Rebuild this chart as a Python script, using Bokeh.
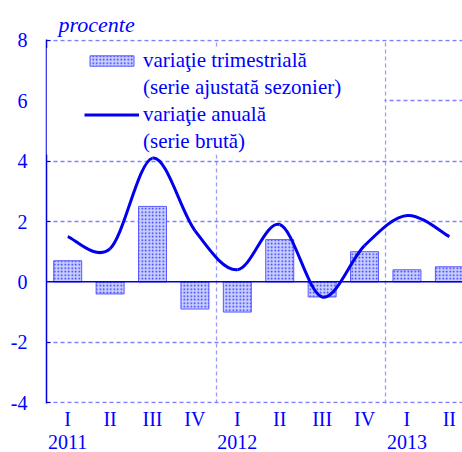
import numpy as np
from bokeh.plotting import figure
from bokeh.models import (FixedTicker, Span, Legend, LegendItem, BoxAnnotation,
                          LinearAxis, Range1d)
from bokeh.embed import file_html
from bokeh.resources import INLINE

# ---- data ----
quarters = ["I", "II", "III", "IV", "I", "II", "III", "IV", "I", "II"]
quarter_years = ["2011", "2011", "2011", "2011", "2012", "2012", "2012", "2012", "2013", "2013"]
quarterly = [0.7, -0.4, 2.5, -0.9, -1.0, 1.4, -0.5, 1.0, 0.4, 0.5]   # variatie trimestriala
annual = [1.5, 1.1, 4.1, 1.7, 0.4, 1.9, -0.5, 1.2, 2.2, 1.5]        # variatie anuala
y_ticks = [-4, -2, 0, 2, 4, 6, 8]

BLUE = "#0000ff"
GRID = "#8080ff"
FONT = "Liberation Serif"

n = len(quarters)
xs = list(range(n))

p = figure(width=462, height=452, output_backend="svg", toolbar_location=None,
           x_range=Range1d(-0.5, 9.31), y_range=Range1d(-4.03, 8.03),
           min_border_left=46, min_border_right=0, min_border_top=39, min_border_bottom=49)
p.outline_line_color = None
p.background_fill_color = "white"

# title
p.title.text = "procente"
p.title.text_font = FONT
p.title.text_font_style = "italic"
p.title.text_font_size = "22px"
p.title.text_color = BLUE
p.title.align = "left"
p.title.offset = 12
p.title.standoff = 6

# grids
p.ygrid.ticker = FixedTicker(ticks=[t for t in y_ticks if t != 0])
p.ygrid.grid_line_color = GRID
p.ygrid.grid_line_dash = "4 3"
p.ygrid.grid_line_width = 1.3
year_bounds = [i - 0.5 for i in range(1, n) if quarters[i] == "I"]
p.xgrid.ticker = FixedTicker(ticks=year_bounds)
p.xgrid.grid_line_color = "#9a9aff"
p.xgrid.grid_line_dash = "4 3"
p.xgrid.grid_line_width = 1.3

# y axis
p.yaxis.ticker = FixedTicker(ticks=y_ticks)
p.yaxis.major_label_overrides = {t: str(t) for t in y_ticks}
p.yaxis.axis_line_color = "#0000dd"
p.yaxis.axis_line_width = 1.5
p.yaxis.major_tick_in = 4
p.yaxis.major_tick_out = 0
p.yaxis.major_tick_line_color = "#0000dd"
p.yaxis.minor_tick_line_color = None
p.yaxis.major_label_standoff = 19
p.yaxis.major_label_text_font = FONT
p.yaxis.major_label_text_font_size = "20px"
p.yaxis.major_label_text_color = BLUE

# x axis: quarters
p.xaxis.ticker = FixedTicker(ticks=xs)
p.xaxis.major_label_overrides = {i: q for i, q in enumerate(quarters)}
p.xaxis.axis_line_color = None
p.xaxis.major_tick_line_color = None
p.xaxis.minor_tick_line_color = None
p.xaxis.major_label_standoff = -2
p.xaxis.major_label_text_font = FONT
p.xaxis.major_label_text_font_size = "20px"
p.xaxis.major_label_text_color = BLUE

# x axis: years
year_pos = [i for i in range(n) if i == 0 or quarter_years[i] != quarter_years[i - 1]]
yax = LinearAxis(ticker=FixedTicker(ticks=year_pos),
                 major_label_overrides={i: quarter_years[i] for i in year_pos})
yax.axis_line_color = None
yax.major_tick_line_color = None
yax.minor_tick_line_color = None
yax.major_label_standoff = -4
yax.major_label_text_font = FONT
yax.major_label_text_font_size = "20px"
yax.major_label_text_color = BLUE
p.add_layout(yax, "below")

# bars
bars = p.vbar(x=xs, top=quarterly, bottom=0, width=0.66,
              fill_color="#c8cfff", hatch_pattern="dot", hatch_color="#2a2aff",
              hatch_scale=3.5, hatch_weight=1.0,
              line_color="#5a5aff", line_width=1)

# zero line
p.add_layout(Span(location=0, dimension="width", line_color="#0000dd", line_width=1.5))

# smooth annual line (cubic Bezier through data points)
xa = np.array(xs, dtype=float)
ya = np.array(annual, dtype=float)
xp = np.concatenate([[xa[0]], xa, [xa[-1]]])
yp = np.concatenate([[ya[0]], ya, [ya[-1]]])
i = np.arange(n - 1)
x0, y0 = xp[i + 1], yp[i + 1]
x1, y1 = xp[i + 2], yp[i + 2]
cx0 = x0 + (xp[i + 2] - xp[i]) / 6.0
cy0 = y0 + (yp[i + 2] - yp[i]) / 6.0
cx1 = x1 - (xp[i + 3] - xp[i + 1]) / 6.0
cy1 = y1 - (yp[i + 3] - yp[i + 1]) / 6.0
p.bezier(x0=x0, y0=y0, x1=x1, y1=y1, cx0=cx0, cy0=cy0, cx1=cx1, cy1=cy1,
         line_color="#0000ee", line_width=3)

# legend background (white box hiding grid lines)
p.add_layout(BoxAnnotation(left=None, right=7.47, bottom=4.22, top=7.75,
                           fill_color="white", fill_alpha=1.0, line_color=None,
                           level="annotation"))

# legend (proxy line uses one real point so its legend glyph is styled; a 1-point line draws nothing)
line_proxy = p.line(x=xs[:1], y=annual[:1], line_color="#0000ee", line_width=3)
blank = p.line(x=xs[:1], y=annual[:1], line_alpha=0)
legend = Legend(items=[
    LegendItem(label="variaţie trimestrială", renderers=[bars]),
    LegendItem(label="(serie ajustată sezonier)", renderers=[blank]),
    LegendItem(label="variaţie anuală", renderers=[line_proxy]),
    LegendItem(label="(serie brută)", renderers=[blank]),
], location=(38, 249))
legend.background_fill_alpha = 0
legend.border_line_color = None
legend.padding = 0
legend.margin = 0
legend.spacing = 2
legend.glyph_width = 55
legend.glyph_height = 13
legend.label_standoff = 4
legend.label_text_font = FONT
legend.label_text_font_size = "21px"
legend.label_text_color = BLUE
p.add_layout(legend, "center")

open("out.html", "w").write(file_html(p, INLINE))
